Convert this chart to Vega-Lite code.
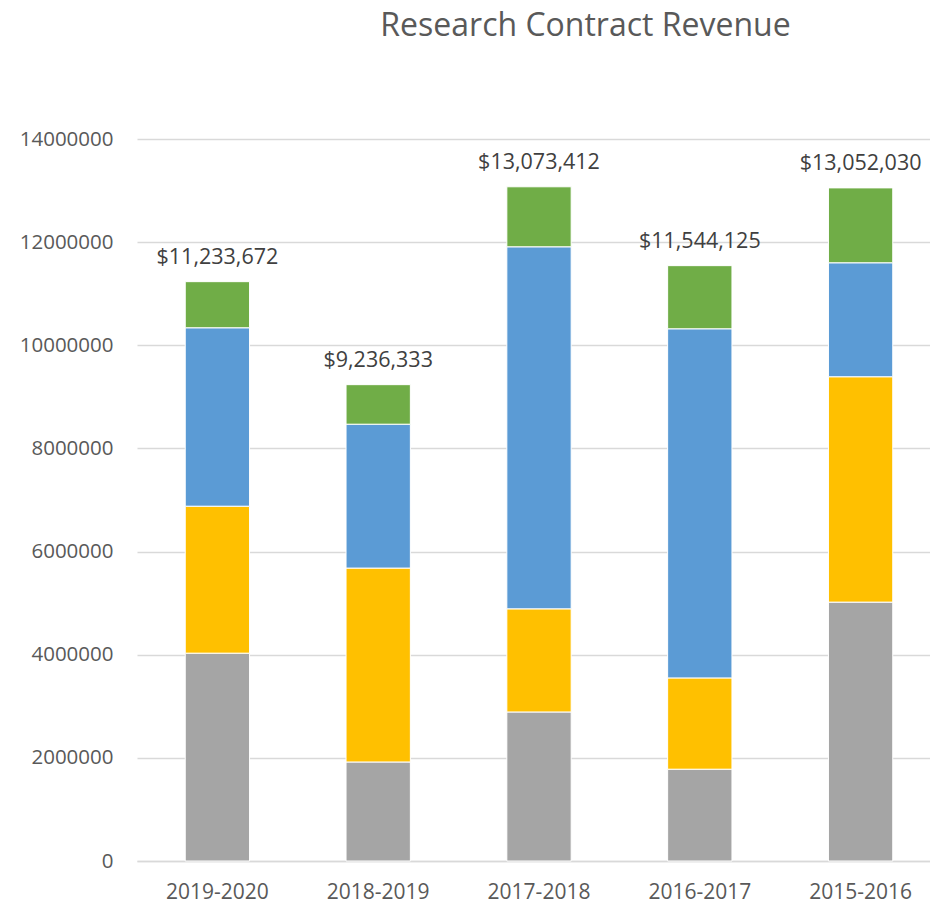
{
  "$schema": "https://vega.github.io/schema/vega-lite/v6.json",
  "width": 793,
  "height": 722,
  "autosize": {"type": "none"},
  "padding": {"left": 137, "top": 139, "right": 0, "bottom": 43},
  "background": "white",
  "title": {
    "text": "Research Contract Revenue",
    "fontSize": 32,
    "font": "Open Sans",
    "fontWeight": "normal",
    "color": "#595959",
    "anchor": "middle",
    "dx": 52,
    "offset": 86
  },
  "config": {
    "view": {"stroke": null},
    "font": "Open Sans"
  },
  "data": {
    "values": [
      {"year": "2019-2020", "series": "Series 1", "value": 4030000},
      {"year": "2019-2020", "series": "Series 2", "value": 2850000},
      {"year": "2019-2020", "series": "Series 3", "value": 3460000},
      {"year": "2019-2020", "series": "Series 4", "value": 893672},
      {"year": "2018-2019", "series": "Series 1", "value": 1920000},
      {"year": "2018-2019", "series": "Series 2", "value": 3760000},
      {"year": "2018-2019", "series": "Series 3", "value": 2790000},
      {"year": "2018-2019", "series": "Series 4", "value": 766333},
      {"year": "2017-2018", "series": "Series 1", "value": 2890000},
      {"year": "2017-2018", "series": "Series 2", "value": 2000000},
      {"year": "2017-2018", "series": "Series 3", "value": 7020000},
      {"year": "2017-2018", "series": "Series 4", "value": 1163412},
      {"year": "2016-2017", "series": "Series 1", "value": 1780000},
      {"year": "2016-2017", "series": "Series 2", "value": 1770000},
      {"year": "2016-2017", "series": "Series 3", "value": 6770000},
      {"year": "2016-2017", "series": "Series 4", "value": 1224125},
      {"year": "2015-2016", "series": "Series 1", "value": 5020000},
      {"year": "2015-2016", "series": "Series 2", "value": 4370000},
      {"year": "2015-2016", "series": "Series 3", "value": 2210000},
      {"year": "2015-2016", "series": "Series 4", "value": 1452030}
    ]
  },
  "encoding": {
    "x": {
      "field": "year",
      "type": "nominal",
      "sort": null,
      "scale": {"paddingInner": 0.6, "paddingOuter": 0.3, "range": [0, 804]},
      "axis": {
        "title": null,
        "labelAngle": 0,
        "labelFontSize": 21,
        "labelColor": "#595959",
        "labelPadding": 20,
        "ticks": false,
        "domain": true,
        "domainColor": "#d9d9d9",
        "domainWidth": 1.5
      }
    }
  },
  "layer": [
    {
      "mark": {"type": "bar", "stroke": "white", "strokeWidth": 1},
      "encoding": {
        "y": {
          "field": "value",
          "type": "quantitative",
          "aggregate": "sum",
          "stack": "zero",
          "scale": {"domain": [0, 14000000], "nice": false},
          "axis": {
            "title": null,
            "format": "d",
            "values": [0, 2000000, 4000000, 6000000, 8000000, 10000000, 12000000, 14000000],
            "labelOverlap": false,
            "labelFontSize": 20.5,
            "labelColor": "#595959",
            "labelPadding": 24,
            "ticks": false,
            "domain": false,
            "gridColor": "#d9d9d9",
            "gridWidth": 1.5
          }
        },
        "color": {
          "field": "series",
          "type": "nominal",
          "scale": {
            "domain": ["Series 1", "Series 2", "Series 3", "Series 4"],
            "range": ["#a5a5a5", "#ffc000", "#5b9bd5", "#70ad47"]
          },
          "legend": null
        },
        "order": {"field": "series", "type": "nominal", "sort": "ascending"}
      }
    },
    {
      "mark": {"type": "text", "fontSize": 21.5, "color": "#404040", "baseline": "bottom", "dy": -13},
      "encoding": {
        "y": {"field": "value", "type": "quantitative", "aggregate": "sum"},
        "text": {"field": "value", "type": "quantitative", "aggregate": "sum", "format": "$,.0f"}
      }
    }
  ]
}
